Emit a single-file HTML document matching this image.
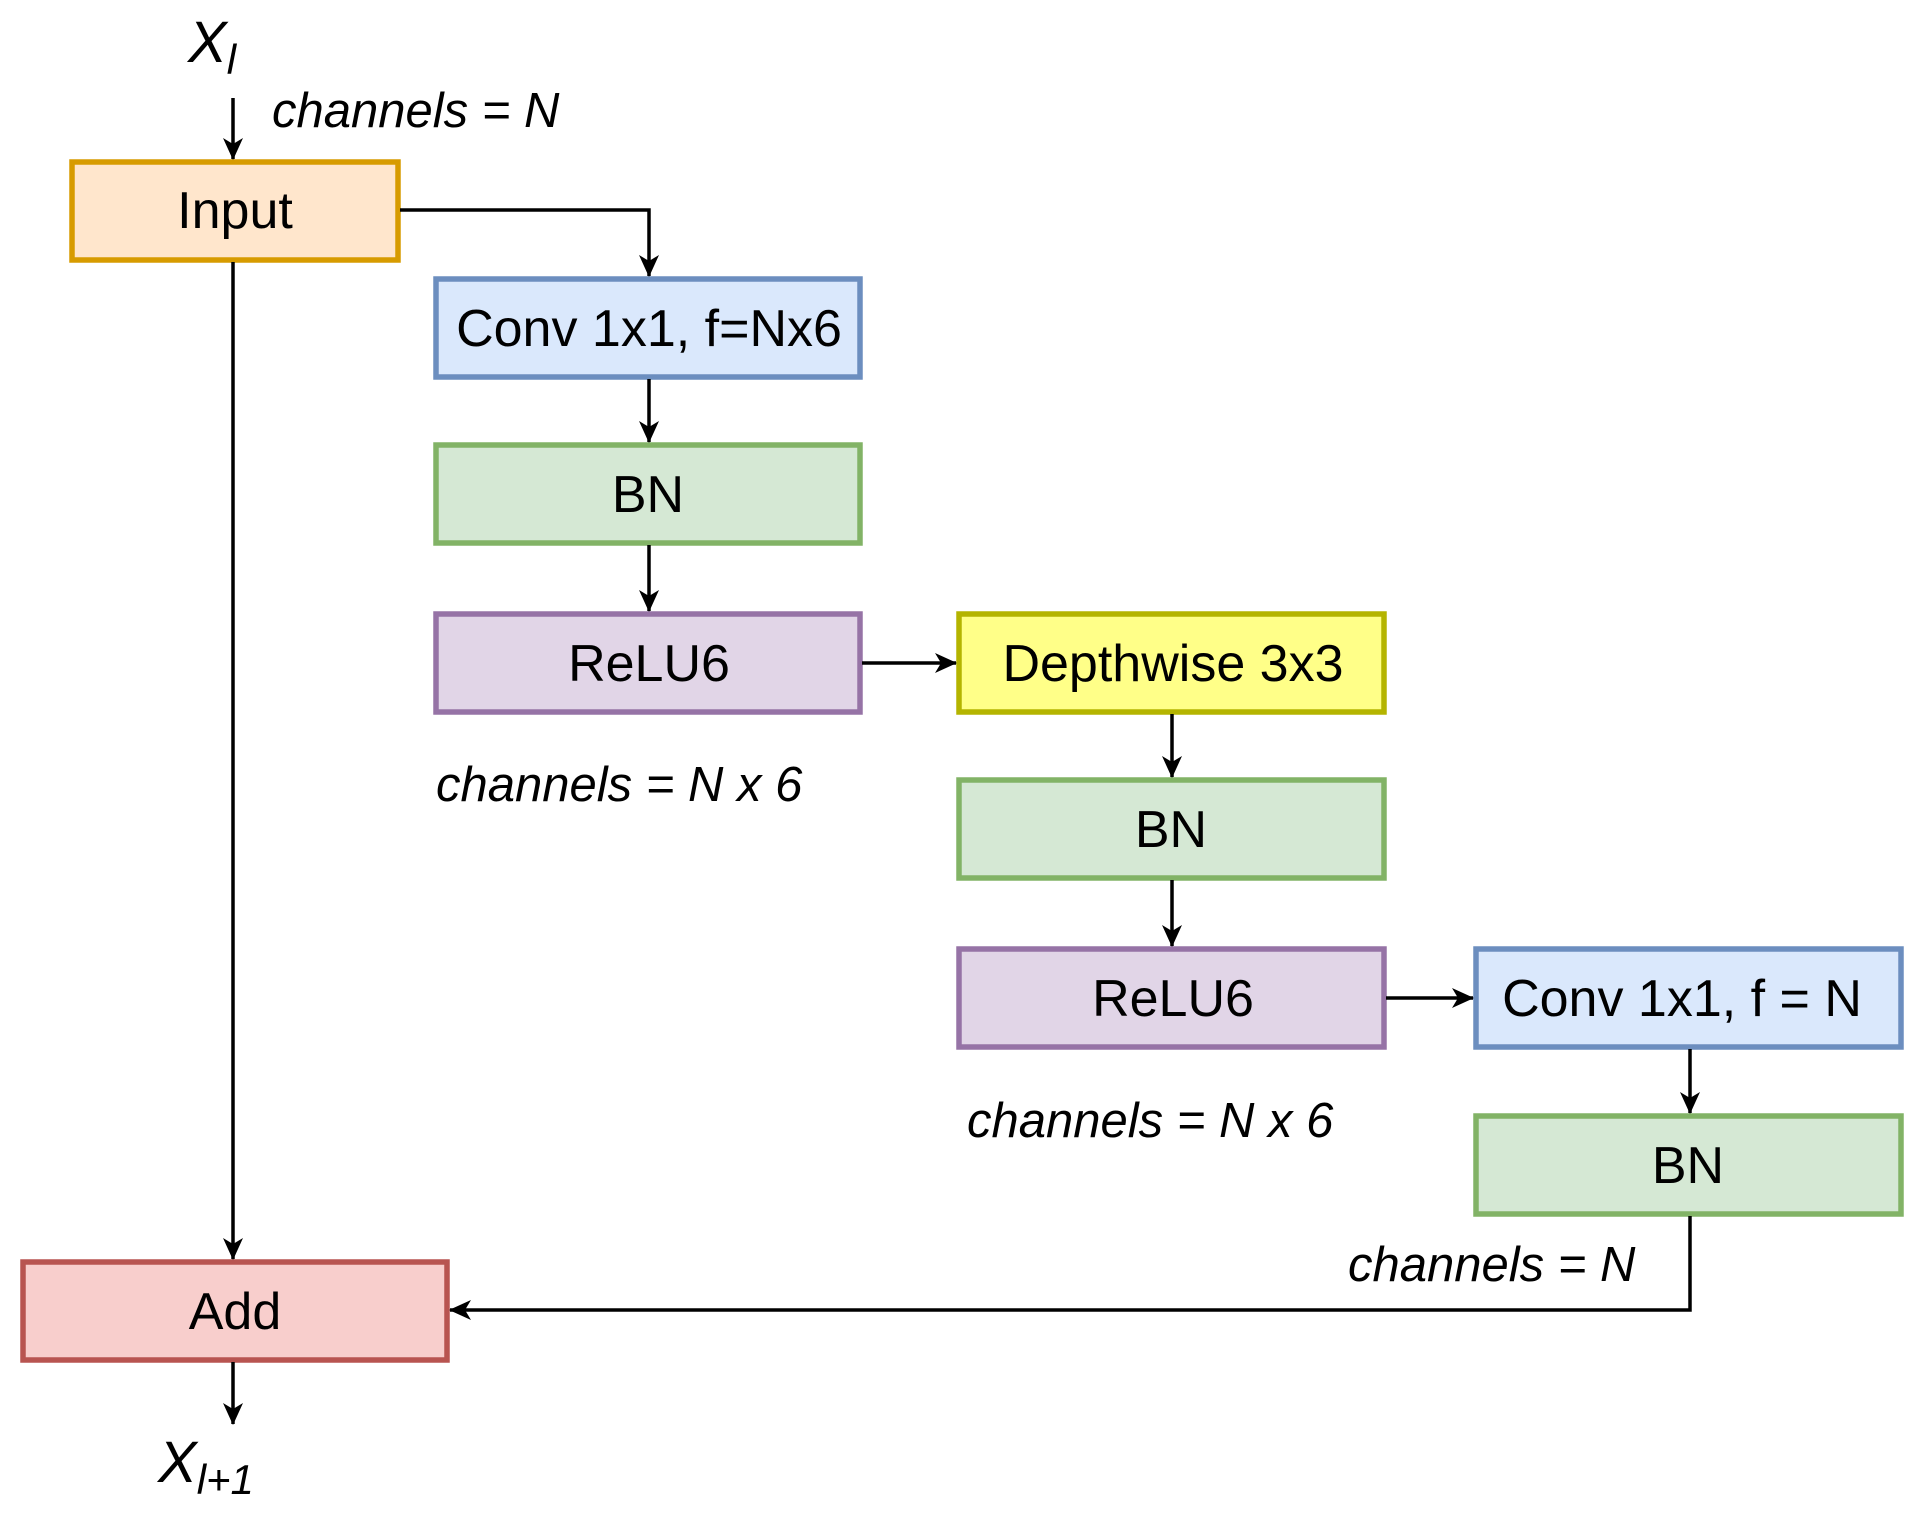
<!DOCTYPE html>
<html><head><meta charset="utf-8"><style>
html,body{margin:0;padding:0;background:#fff}
svg{display:block}
text{font-family:"Liberation Sans",Arial,sans-serif;fill:#000}
.b{font-size:52px;text-anchor:middle}
.i{font-size:49px;font-style:italic}
</style></head><body>
<svg width="1921" height="1525" viewBox="0 0 1921 1525" xmlns="http://www.w3.org/2000/svg">
<defs>
<marker id="a" markerWidth="22" markerHeight="20" refX="21" refY="10" orient="auto" markerUnits="userSpaceOnUse">
<path d="M0,0 L22,10 L0,20 L6,10 Z" fill="#000"/>
</marker>
</defs>
<g stroke-width="5.5">
<rect x="72" y="162" width="326" height="98" fill="#ffe6cc" stroke="#d79b00"/>
<rect x="436" y="279" width="424" height="98" fill="#dae8fc" stroke="#6c8ebf"/>
<rect x="436" y="445" width="424" height="98" fill="#d5e8d4" stroke="#82b366"/>
<rect x="436" y="614" width="424" height="98" fill="#e1d5e7" stroke="#9673a6"/>
<rect x="959" y="614" width="425" height="98" fill="#ffff88" stroke="#b4b400"/>
<rect x="959" y="780" width="425" height="98" fill="#d5e8d4" stroke="#82b366"/>
<rect x="959" y="949" width="425" height="98" fill="#e1d5e7" stroke="#9673a6"/>
<rect x="1476" y="949" width="425" height="98" fill="#dae8fc" stroke="#6c8ebf"/>
<rect x="1476" y="1116" width="425" height="98" fill="#d5e8d4" stroke="#82b366"/>
<rect x="23" y="1262" width="424" height="98" fill="#f8cecc" stroke="#b85450"/>
</g>
<g stroke="#000" stroke-width="3.5" fill="none" marker-end="url(#a)">
<path d="M233,98 V159"/>
<path d="M233,262 V1259"/>
<path d="M400,210 H649 V276"/>
<path d="M649,379 V442"/>
<path d="M649,545 V611"/>
<path d="M862,663 H956"/>
<path d="M1172,714 V777"/>
<path d="M1172,880 V946"/>
<path d="M1386,998 H1473"/>
<path d="M1690,1049 V1113"/>
<path d="M1690,1216 V1310 H450"/>
<path d="M233,1362 V1424"/>
</g>
<text class="b" x="235" y="228">Input</text>
<text class="b" x="649" y="346">Conv 1x1, f=Nx6</text>
<text class="b" x="648" y="512">BN</text>
<text class="b" x="649" y="681">ReLU6</text>
<text class="b" x="1173" y="681">Depthwise 3x3</text>
<text class="b" x="1171" y="847">BN</text>
<text class="b" x="1173" y="1016">ReLU6</text>
<text class="b" x="1682" y="1016">Conv 1x1, f = N</text>
<text class="b" x="1688" y="1183">BN</text>
<text class="b" x="235" y="1329">Add</text>
<text class="i" x="272" y="127">channels = N</text>
<text class="i" x="436" y="801">channels = N x 6</text>
<text class="i" x="967" y="1137">channels = N x 6</text>
<text class="i" x="1348" y="1281">channels = N</text>
<text x="188" y="62" style="font-size:58px;font-style:italic">X<tspan dy="12" style="font-size:42px">l</tspan></text>
<text x="158" y="1482" style="font-size:58px;font-style:italic">X<tspan dy="12" style="font-size:42px">l+1</tspan></text>
</svg>
</body></html>
